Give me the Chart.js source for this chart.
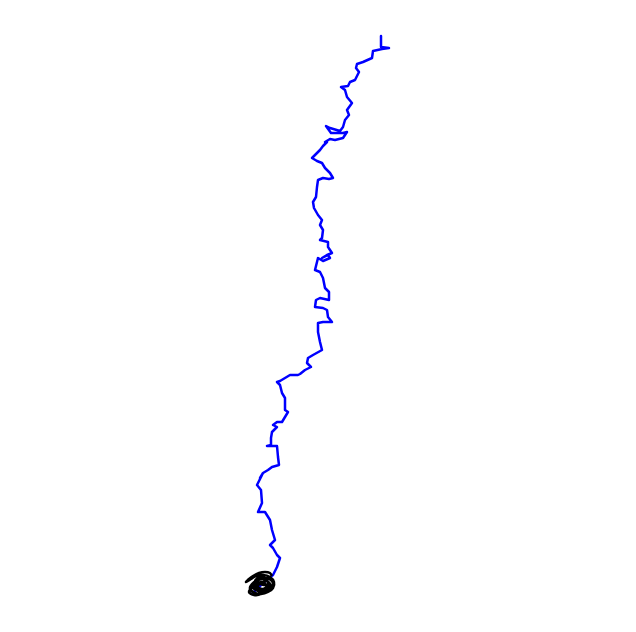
<!DOCTYPE html>
<html>
<head>
<meta charset="utf-8">
<script src="https://cdn.jsdelivr.net/npm/chart.js@4"></script>
<style>
  html, body { margin: 0; padding: 0; background: #fff; }
</style>
</head>
<body>
<canvas id="track" width="636" height="632"></canvas>
<script>
// track (x east, y down)
const trackX = [381, 381, 389, 382, 373, 372, 363, 357, 356, 359, 355, 350, 348, 341, 345, 347, 352, 347, 349, 345,
  343, 340, 330, 326, 331, 337, 343, 347, 343, 335, 330, 325, 327, 323, 320, 312, 317, 322, 325, 330,
  333, 329, 323, 318, 317, 316, 313, 314, 318, 322, 320, 323, 322, 320, 328, 328, 332, 327, 322, 328,
  330, 323, 318, 315, 320, 323, 325, 329, 329, 320, 316, 315, 323, 327, 328, 332, 323, 318, 318, 320,
  322, 313, 308, 307, 311, 305, 300, 298, 290, 285, 280, 277, 280, 282, 285, 285, 288, 285, 282, 277,
  273, 277, 272, 271, 271, 267, 277, 278, 279, 272, 268, 263, 260, 262, 257, 261, 262, 258, 265, 270,
  272, 275, 270, 273, 277, 280, 277, 273, 268, 262, 256, 252];
const trackY = [36, 47, 48, 49, 51, 58, 62, 64, 68, 72, 80, 82, 86, 87, 90, 97, 103, 110, 115, 120,
  127, 131, 128, 126, 133, 133, 133, 132, 138, 140, 139, 142, 142, 146, 150, 158, 161, 163, 168, 173,
  178, 179, 178, 180, 187, 197, 202, 208, 215, 220, 225, 230, 238, 240, 242, 247, 253, 255, 258, 255,
  258, 261, 258, 270, 272, 278, 288, 292, 300, 298, 300, 307, 308, 310, 317, 322, 322, 323, 332, 342,
  350, 355, 358, 363, 367, 370, 374, 375, 375, 378, 381, 382, 385, 393, 398, 410, 412, 417, 422, 422,
  425, 427, 432, 438, 445, 446, 446, 457, 465, 467, 470, 473, 478, 475, 485, 490, 503, 512, 512, 520,
  530, 540, 545, 548, 555, 558, 567, 575, 579, 584, 590, 594];

// tangled end of the track
const knotX = [272, 270, 265, 259, 253, 249, 246, 251, 256, 263, 270, 274, 273, 268, 261, 255, 250, 252, 258, 265,
  271, 273, 269, 262, 256, 252, 255, 262, 268, 271, 266, 259, 254, 257, 264, 268, 266, 260, 255, 258,
  263, 267, 262, 257, 259, 264, 261, 254, 249, 253, 260, 266, 270, 267, 260];
const knotY = [576, 573, 572, 573, 576, 579, 582, 579, 576, 575, 577, 582, 588, 592, 594, 593, 589, 584, 580, 578,
  580, 585, 590, 592, 590, 586, 582, 579, 582, 587, 591, 590, 586, 583, 585, 584, 579, 577, 581, 588,
  589, 586, 582, 584, 588, 590, 594, 595, 592, 587, 584, 581, 584, 589, 591];

const toPoints = (xs, ys) => xs.map((x, i) => ({ x: x, y: ys[i] }));

new Chart(document.getElementById('track').getContext('2d'), {
  type: 'scatter',
  data: {
    datasets: [
      {
        data: toPoints(knotX, knotY),
        showLine: true,
        borderColor: '#000000',
        borderWidth: 2.5,
        borderJoinStyle: 'round',
        pointRadius: 0,
        tension: 0.3
      },
      {
        data: toPoints(trackX, trackY),
        showLine: true,
        borderColor: '#0000ff',
        borderWidth: 2.5,
        borderJoinStyle: 'round',
        borderCapStyle: 'round',
        pointRadius: 0
      }
    ]
  },
  options: {
    responsive: false,
    animation: false,
    layout: { padding: 0 },
    plugins: { legend: { display: false }, tooltip: { enabled: false } },
    scales: {
      x: { display: false, min: 0, max: 636 },
      y: { display: false, min: 0, max: 632, reverse: true }
    }
  }
});
</script>
</body>
</html>
